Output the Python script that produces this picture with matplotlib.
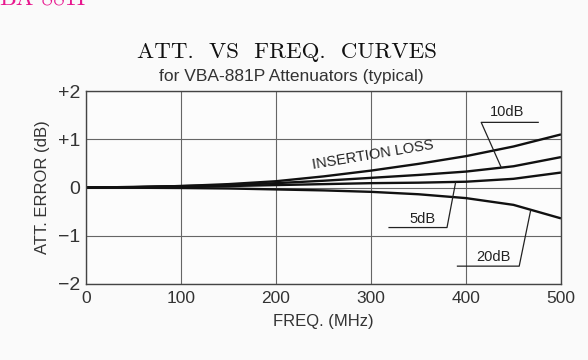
import matplotlib
matplotlib.use("Agg")
import matplotlib.pyplot as plt
import numpy as np

# ---- data ----
freq = [0, 50, 100, 150, 200, 250, 300, 350, 400, 450, 500]
insertion_loss = [0, 0.01, 0.03, 0.07, 0.13, 0.23, 0.35, 0.49, 0.65, 0.85, 1.10]
att_10db = [0, 0.01, 0.03, 0.05, 0.09, 0.14, 0.20, 0.26, 0.33, 0.44, 0.63]
att_5db = [0, 0.005, 0.02, 0.03, 0.05, 0.07, 0.09, 0.10, 0.12, 0.18, 0.31]
att_20db = [0, -0.005, -0.01, -0.02, -0.04, -0.06, -0.09, -0.14, -0.22, -0.36, -0.64]

x_ticks = [0, 100, 200, 300, 400, 500]
x_tick_labels = ["0", "100", "200", "300", "400", "500"]
y_ticks = [-2, -1, 0, 1, 2]
y_tick_labels = ["\u22122", "\u22121", "0", "+1", "+2"]

# callout leader lines: (label, text position, polyline x, polyline y)
callout_labels = ["10dB", "5dB", "20dB"]
callout_text_xy = [(425, 1.42), (341, -0.80), (411, -1.58)]
callout_line_x = [[476, 416, 437], [319, 380, 389], [391, 456, 468]]
callout_line_y = [[1.35, 1.35, 0.42], [-0.83, -0.83, 0.10], [-1.63, -1.63, -0.48]]

title = "ATT.  VS  FREQ.  CURVES"
subtitle = "for VBA-881P Attenuators (typical)"
x_label = "FREQ. (MHz)"
y_label = "ATT. ERROR (dB)"
corner_text = "BA-881P"

sans = ["Liberation Sans", "DejaVu Sans"]

fig = plt.figure(figsize=(5.88, 3.60), dpi=100)
fig.patch.set_facecolor("#fafafa")
ax = fig.add_axes([86 / 588, 1 - 284 / 360, 475 / 588, 193 / 360])
ax.set_facecolor("#fcfcfc")

ax.set_xlim(0, 500)
ax.set_ylim(-2, 2)
ax.set_xticks(x_ticks)
ax.set_xticklabels(x_tick_labels, fontfamily=sans, fontsize=12.5, color="#333333")
ax.set_yticks(y_ticks)
ax.set_yticklabels(y_tick_labels, fontfamily=sans, fontsize=14, color="#333333")
ax.tick_params(axis="x", length=0, pad=5)
ax.tick_params(axis="y", length=0, pad=4)
ax.grid(True, color="#666666", lw=0.8)
ax.set_axisbelow(True)
for s in ax.spines.values():
    s.set_color("#444444")
    s.set_linewidth(1.0)

for series in (insertion_loss, att_10db, att_5db, att_20db):
    ax.plot(freq, series, color="#111111", lw=1.7, solid_capstyle="butt")

for lab, (tx, ty), lx, ly in zip(callout_labels, callout_text_xy, callout_line_x, callout_line_y):
    ax.plot(lx, ly, color="#222222", lw=0.9)
    ax.text(tx, ty, lab, fontfamily=sans, fontsize=10.5, color="#222222",
            ha="left", va="bottom")

ax.text(302, 0.68, "INSERTION LOSS", fontfamily=sans, fontsize=10.5,
        color="#222222", rotation=9.5, ha="center", va="center",
        rotation_mode="anchor")

ax.set_xlabel(x_label, fontfamily=sans, fontsize=12, color="#333333", labelpad=6)
ax.set_ylabel(y_label, fontfamily=sans, fontsize=12, color="#333333", labelpad=6)

fig.text(0.488, 1 - 52 / 360, title, fontfamily="cmr10", fontsize=16.5,
         ha="center", va="center", color="#111111")
fig.text(0.495, 1 - 76 / 360, subtitle, fontfamily=sans, fontsize=12.5,
         ha="center", va="center", color="#333333")
fig.text(-0.002, 1 - 5 / 360, corner_text, fontfamily="cmr10", fontsize=17,
         ha="left", va="baseline", color="#e8188f")

fig.savefig("out.png", dpi=100, facecolor=fig.get_facecolor())
